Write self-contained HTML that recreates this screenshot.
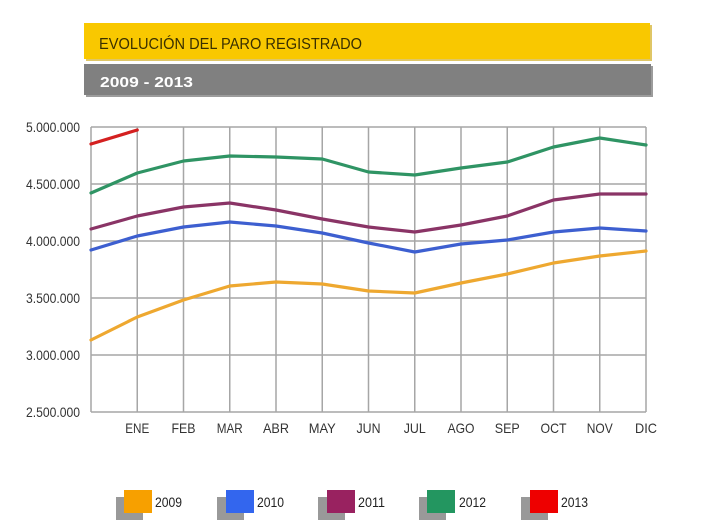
<!DOCTYPE html>
<html>
<head>
<meta charset="utf-8">
<style>
html,body{margin:0;padding:0;background:#fff;}
svg{display:block;}
text{font-family:"Liberation Sans",Arial,sans-serif;}
</style>
</head>
<body>
<svg width="720" height="532" viewBox="0 0 720 532" xmlns="http://www.w3.org/2000/svg">
<rect width="720" height="532" fill="#fff"/>
<!-- Title boxes -->
<rect x="86" y="25" width="566" height="36" fill="#c9a000" opacity="0.6"/>
<rect x="84" y="23" width="566" height="36" fill="#f9c800"/>
<text x="99" y="49" font-size="16" fill="#3a3000" textLength="263" lengthAdjust="spacingAndGlyphs">EVOLUCIÓN DEL PARO REGISTRADO</text>
<rect x="86" y="66" width="567" height="31" fill="#5a5a5a" opacity="0.6"/>
<rect x="84" y="64" width="567" height="31" fill="#808080"/>
<text x="100" y="87" font-size="15" font-weight="bold" fill="#fff" textLength="93" lengthAdjust="spacingAndGlyphs">2009 - 2013</text>

<!-- Grid -->
<g stroke="#a6a6a6" stroke-width="1.5" fill="none">
<line x1="91" y1="127" x2="646" y2="127"/>
<line x1="91" y1="184" x2="646" y2="184"/>
<line x1="91" y1="241" x2="646" y2="241"/>
<line x1="91" y1="298" x2="646" y2="298"/>
<line x1="91" y1="355" x2="646" y2="355"/>
<line x1="91" y1="412" x2="646" y2="412"/>
<line x1="91" y1="127" x2="91" y2="412"/>
<line x1="137.25" y1="127" x2="137.25" y2="412"/>
<line x1="183.5" y1="127" x2="183.5" y2="412"/>
<line x1="229.75" y1="127" x2="229.75" y2="412"/>
<line x1="276" y1="127" x2="276" y2="412"/>
<line x1="322.25" y1="127" x2="322.25" y2="412"/>
<line x1="368.5" y1="127" x2="368.5" y2="412"/>
<line x1="414.75" y1="127" x2="414.75" y2="412"/>
<line x1="461" y1="127" x2="461" y2="412"/>
<line x1="507.25" y1="127" x2="507.25" y2="412"/>
<line x1="553.5" y1="127" x2="553.5" y2="412"/>
<line x1="599.75" y1="127" x2="599.75" y2="412"/>
<line x1="646" y1="127" x2="646" y2="412"/>
</g>

<!-- Y labels -->
<g font-size="14" fill="#333" text-anchor="end">
<text x="80" y="132" textLength="54" lengthAdjust="spacingAndGlyphs">5.000.000</text>
<text x="80" y="189" textLength="54" lengthAdjust="spacingAndGlyphs">4.500.000</text>
<text x="80" y="246" textLength="54" lengthAdjust="spacingAndGlyphs">4.000.000</text>
<text x="80" y="303" textLength="54" lengthAdjust="spacingAndGlyphs">3.500.000</text>
<text x="80" y="360" textLength="54" lengthAdjust="spacingAndGlyphs">3.000.000</text>
<text x="80" y="417" textLength="54" lengthAdjust="spacingAndGlyphs">2.500.000</text>
</g>

<!-- X labels -->
<g font-size="14" fill="#333" text-anchor="middle">
<text x="137.25" y="433" textLength="24" lengthAdjust="spacingAndGlyphs">ENE</text>
<text x="183.5" y="433" textLength="24" lengthAdjust="spacingAndGlyphs">FEB</text>
<text x="229.75" y="433" textLength="26" lengthAdjust="spacingAndGlyphs">MAR</text>
<text x="276" y="433" textLength="26" lengthAdjust="spacingAndGlyphs">ABR</text>
<text x="322.25" y="433" textLength="27" lengthAdjust="spacingAndGlyphs">MAY</text>
<text x="368.5" y="433" textLength="24" lengthAdjust="spacingAndGlyphs">JUN</text>
<text x="414.75" y="433" textLength="22" lengthAdjust="spacingAndGlyphs">JUL</text>
<text x="461" y="433" textLength="27" lengthAdjust="spacingAndGlyphs">AGO</text>
<text x="507.25" y="433" textLength="25" lengthAdjust="spacingAndGlyphs">SEP</text>
<text x="553.5" y="433" textLength="26" lengthAdjust="spacingAndGlyphs">OCT</text>
<text x="599.75" y="433" textLength="26" lengthAdjust="spacingAndGlyphs">NOV</text>
<text x="646" y="433" textLength="22" lengthAdjust="spacingAndGlyphs">DIC</text>
</g>

<!-- Series -->
<g fill="none" stroke-width="3.2" stroke-linejoin="round" stroke-linecap="round">
<polyline stroke="#2f9464" points="91,193 137.25,173 183.5,161 229.75,156 276,157 322.25,159 368.5,172 414.75,175 461,168 507.25,162 553.5,147 599.75,138 646,145"/>
<polyline stroke="#8a3466" points="91,229 137.25,216 183.5,207 229.75,203 276,210 322.25,219 368.5,227 414.75,232 461,225 507.25,216 553.5,200 599.75,194 646,194"/>
<polyline stroke="#3d5fd0" points="91,250 137.25,236 183.5,227 229.75,222 276,226 322.25,233 368.5,243 414.75,252 461,244 507.25,240 553.5,232 599.75,228 646,231"/>
<polyline stroke="#eea830" points="91,340 137.25,317 183.5,300 229.75,286 276,282 322.25,284 368.5,291 414.75,293 461,283 507.25,274 553.5,263 599.75,256 646,251"/>
<polyline stroke="#d42020" points="91,144 137.25,130"/>
</g>

<!-- Legend -->
<g>
<rect x="116" y="497" width="27" height="23" fill="#999"/>
<rect x="124" y="490" width="28" height="23" fill="#f7a000"/>
<text x="155" y="507" font-size="14" fill="#222" textLength="27" lengthAdjust="spacingAndGlyphs">2009</text>

<rect x="217" y="497" width="27" height="23" fill="#999"/>
<rect x="226" y="490" width="28" height="23" fill="#3366ee"/>
<text x="257" y="507" font-size="14" fill="#222" textLength="27" lengthAdjust="spacingAndGlyphs">2010</text>

<rect x="318" y="497" width="27" height="23" fill="#999"/>
<rect x="327" y="490" width="28" height="23" fill="#992260"/>
<text x="358" y="507" font-size="14" fill="#222" textLength="27" lengthAdjust="spacingAndGlyphs">2011</text>

<rect x="419" y="497" width="27" height="23" fill="#999"/>
<rect x="427" y="490" width="28" height="23" fill="#239660"/>
<text x="459" y="507" font-size="14" fill="#222" textLength="27" lengthAdjust="spacingAndGlyphs">2012</text>

<rect x="521" y="497" width="27" height="23" fill="#999"/>
<rect x="530" y="490" width="28" height="23" fill="#ee0000"/>
<text x="561" y="507" font-size="14" fill="#222" textLength="27" lengthAdjust="spacingAndGlyphs">2013</text>
</g>
</svg>
</body>
</html>
